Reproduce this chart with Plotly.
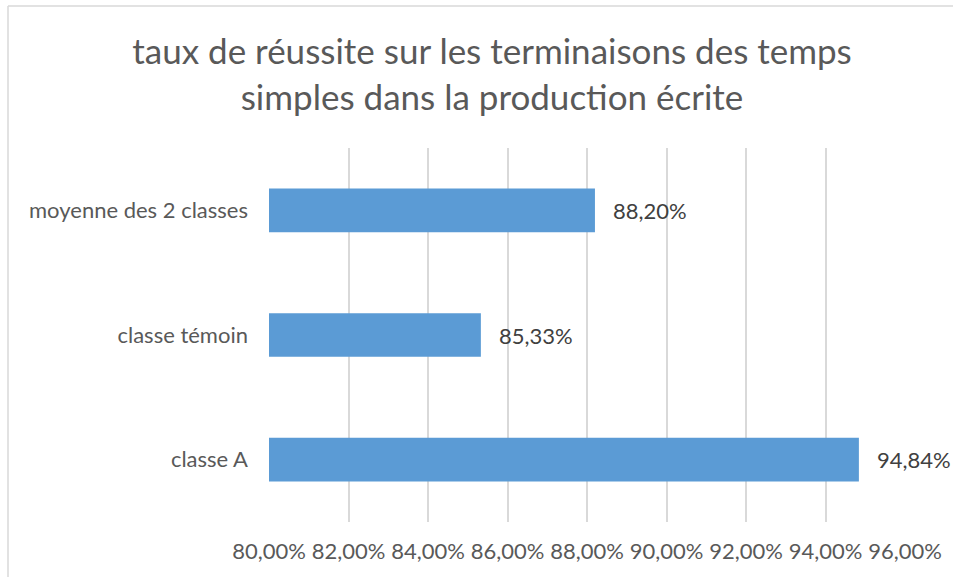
import plotly.graph_objects as go

categories = ["classe A", "classe témoin", "moyenne des 2 classes"]
values = [0.9484, 0.8533, 0.8820]
tick_vals = [0.80, 0.82, 0.84, 0.86, 0.88, 0.90, 0.92, 0.94, 0.96]

title_text = "taux de réussite sur les terminaisons des temps<br>simples dans la production écrite"

FONT = "Lato, 'Open Sans', sans-serif"
W, H = 957, 577
ml, mr, mt, mb = 269, 52, 148, 55
pw, ph = W - ml - mr, H - mt - mb

def px_to_paper_x(px):
    return (px - ml) / pw

def px_to_paper_y(py):
    return (H - mb - py) / ph

fig = go.Figure()
fig.add_trace(go.Bar(
    y=categories, x=values, orientation="h",
    marker=dict(color="#5B9BD5", line=dict(width=0)),
    width=0.35, hoverinfo="skip",
))

for c, v in zip(categories, values):
    fig.add_annotation(
        x=v, y=c, xref="x", yref="y",
        text=f"{v*100:.2f}%".replace(".", ","),
        showarrow=False, xanchor="left", xshift=16,
        font=dict(family=FONT, size=22, color="#404040"),
    )

# chart border (top and left edges visible in crop)
fig.add_shape(type="line", xref="paper", yref="paper",
              x0=px_to_paper_x(8), x1=px_to_paper_x(953),
              y0=px_to_paper_y(6), y1=px_to_paper_y(6),
              line=dict(color="#D9D9D9", width=1.5))
fig.add_shape(type="line", xref="paper", yref="paper",
              x0=px_to_paper_x(8), x1=px_to_paper_x(8),
              y0=px_to_paper_y(6), y1=px_to_paper_y(580),
              line=dict(color="#D9D9D9", width=1.5))

fig.update_layout(
    width=W, height=H,
    margin=dict(l=ml, r=mr, t=mt, b=mb, autoexpand=False),
    paper_bgcolor="white", plot_bgcolor="white",
    separators=", ",
    showlegend=False,
    title=dict(text=title_text, x=492 / W, xanchor="center",
               y=1 - 64 / H, yanchor="middle", xref="container", yref="container",
               font=dict(family=FONT, size=35, color="#595959")),
    xaxis=dict(range=[0.80, 0.96], tickvals=tick_vals, tickformat=".2%",
               showgrid=True, gridcolor="#D9D9D9", gridwidth=1.5,
               zeroline=False, showline=False, ticks="",
               ticklabelstandoff=14,
               tickfont=dict(family=FONT, size=22, color="#595959")),
    yaxis=dict(range=[-0.5, 2.5], showgrid=False, zeroline=False, showline=False,
               ticks="", ticklabelstandoff=20,
               tickfont=dict(family=FONT, size=22, color="#595959")),
)

fig.write_html("out.html", config={"displayModeBar": False},
               post_script="document.body.style.margin='0';document.body.style.overflow='hidden';")
